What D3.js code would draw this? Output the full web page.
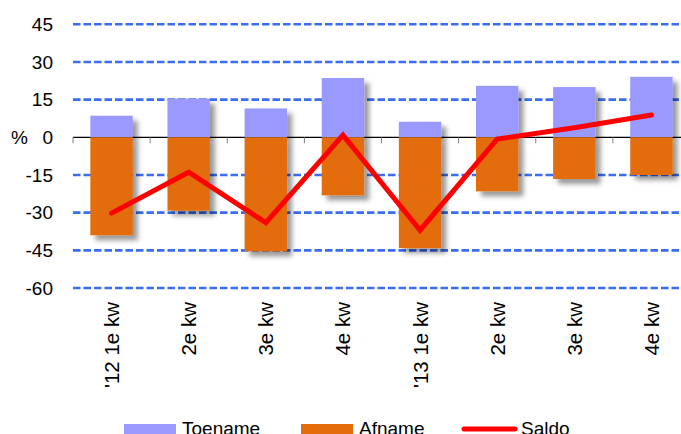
<!DOCTYPE html>
<html>
<head>
<meta charset="utf-8">
<script src="https://cdn.jsdelivr.net/npm/d3@7"></script>
<style>
  body { margin: 0; background: #fff; }
  svg { display: block; font-family: "Liberation Sans", Arial, sans-serif; }
</style>
</head>
<body>
<div id="chart"></div>
<script>
// categories and values
let categories = ["'12 1e kw", "2e kw", "3e kw", "4e kw", "'13 1e kw", "2e kw", "3e kw", "4e kw"];
let toename = [8.6, 15.4, 11.5, 23.6, 6.2, 20.5, 20.0, 24.1];
let afname = [-39.0, -29.2, -45.4, -23.1, -44.1, -21.5, -16.6, -15.0];
let saldo = [-30.2, -13.9, -34.0, 0.9, -37.0, -0.7, 3.8, 8.9];
let yTicks = [45, 30, 15, 0, -15, -30, -45, -60];
let legendItems = [
  {name: "Toename", type: "bar", color: "#9999ff"},
  {name: "Afname", type: "bar", color: "#e36c0a"},
  {name: "Saldo", type: "line", color: "#ff0000"}
];

let width = 681, height = 434;

let svg = d3.select("#chart").append("svg")
  .attr("width", width)
  .attr("height", height);

// drop shadow like the spreadsheet bars
let defs = svg.append("defs");
defs.append("filter")
  .attr("id", "shadow")
  .attr("x", "-20%").attr("y", "-20%")
  .attr("width", "160%").attr("height", "160%")
  .append("feDropShadow")
  .attr("dx", 5).attr("dy", 5)
  .attr("stdDeviation", 2.5)
  .attr("flood-color", "#000")
  .attr("flood-opacity", 0.4);

let x = d3.scaleBand()
  .domain(d3.range(categories.length))
  .range([73, 690])
  .paddingInner(0.45)
  .paddingOuter(0.225);

let y = d3.scaleLinear()
  .domain([-60, 45])
  .range([288, 24.3]);

let step = x.step();
let x0 = x.range()[0];
let center = function(i){ return x(i) + x.bandwidth() / 2; };

// gridlines (not at zero)
svg.append("g").selectAll("line")
  .data(yTicks.filter(function(d){ return d != 0; }))
  .enter().append("line")
  .attr("x1", x0).attr("x2", width)
  .attr("y1", function(d){ return y(d); })
  .attr("y2", function(d){ return y(d); })
  .attr("stroke", "#3a6cf4")
  .attr("stroke-width", 2.6)
  .attr("stroke-dasharray", "7.5,3");

// zero line with tick marks at category boundaries
let axis = svg.append("g");
axis.append("line")
  .attr("x1", x0).attr("x2", width)
  .attr("y1", y(0)).attr("y2", y(0))
  .attr("stroke", "#000")
  .attr("stroke-width", 1.2);
axis.selectAll(".tk").data(d3.range(categories.length + 1)).enter().append("line")
  .attr("class", "tk")
  .attr("x1", function(d){ return x0 + d * step; })
  .attr("x2", function(d){ return x0 + d * step; })
  .attr("y1", y(0)).attr("y2", y(0) + 6)
  .attr("stroke", "#808080")
  .attr("stroke-width", 1);

// y tick labels
svg.append("g").selectAll("text")
  .data(yTicks).enter().append("text")
  .attr("x", 53)
  .attr("y", function(d){ return y(d); })
  .attr("dy", "0.36em")
  .attr("text-anchor", "end")
  .style("font-size", "19px")
  .attr("fill", "#000")
  .text(function(d){ return d; });

svg.append("text")
  .attr("x", 11).attr("y", y(0))
  .attr("dy", "0.36em")
  .style("font-size", "19px")
  .text("%");

// bars
svg.append("g").attr("filter", "url(#shadow)")
  .selectAll("rect").data(toename).enter().append("rect")
  .attr("x", function(d, i){ return x(i); })
  .attr("width", x.bandwidth())
  .attr("y", function(d){ return y(d); })
  .attr("height", function(d){ return y(0) - y(d); })
  .attr("fill", legendItems[0].color);

svg.append("g").attr("filter", "url(#shadow)")
  .selectAll("rect").data(afname).enter().append("rect")
  .attr("x", function(d, i){ return x(i); })
  .attr("width", x.bandwidth())
  .attr("y", y(0))
  .attr("height", function(d){ return y(d) - y(0); })
  .attr("fill", legendItems[1].color);

// saldo line
let line = d3.line()
  .x(function(d, i){ return center(i); })
  .y(function(d){ return y(d); });

svg.append("path")
  .datum(saldo)
  .attr("d", line)
  .attr("fill", "none")
  .attr("stroke", legendItems[2].color)
  .attr("stroke-width", 5)
  .attr("stroke-linejoin", "miter")
  .attr("stroke-linecap", "round");

// category labels, rotated
svg.append("g").selectAll("text")
  .data(categories).enter().append("text")
  .attr("transform", function(d, i){ return "translate(" + (center(i) + 7.5) + ",302) rotate(-90)"; })
  .attr("text-anchor", "end")
  .style("font-size", "20.5px")
  .text(function(d){ return d; });

// legend
let legendX = [124, 301, 462];
let lg = svg.append("g").selectAll("g")
  .data(legendItems).enter().append("g")
  .attr("transform", function(d, i){ return "translate(" + legendX[i] + ",0)"; });

lg.filter(function(d){ return d.type == "bar"; }).append("rect")
  .attr("x", 0).attr("y", 424)
  .attr("width", 52).attr("height", 12)
  .attr("fill", function(d){ return d.color; });

lg.filter(function(d){ return d.type == "line"; }).append("line")
  .attr("x1", 2).attr("x2", 53)
  .attr("y1", 429).attr("y2", 429)
  .attr("stroke", function(d){ return d.color; })
  .attr("stroke-width", 5)
  .attr("stroke-linecap", "round");

lg.append("text")
  .attr("x", function(d){ return d.type == "bar" ? 58 : 59; })
  .attr("y", 435)
  .style("font-size", "19px")
  .text(function(d){ return d.name; });
</script>
</body>
</html>
